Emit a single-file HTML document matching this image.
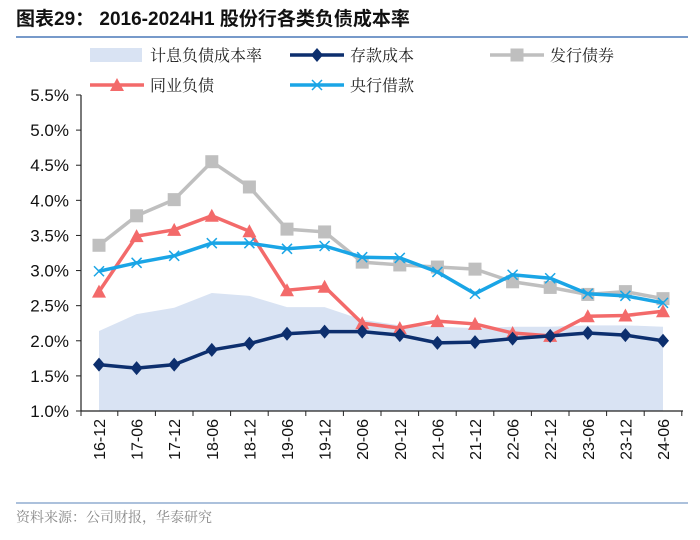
<!DOCTYPE html>
<html><head><meta charset="utf-8"><style>
body{margin:0;background:#fff;}
svg text{font-family:"Liberation Sans","Noto Sans CJK SC",sans-serif;}
svg text.serif{font-family:"Liberation Serif","Noto Serif CJK SC",serif;}
</style></head><body>
<svg width="700" height="535" viewBox="0 0 700 535">
<text x="16" y="25" font-size="19" font-weight="bold" fill="#111">图表29： 2016-2024H1 股份行各类负债成本率</text>
<line x1="16" y1="37" x2="688" y2="37" stroke="#4a78b8" stroke-width="1.5"/>
<g id="legend" font-size="16" fill="#222"></g>
<g id="plot"></g>
<line x1="16" y1="503" x2="688" y2="503" stroke="#7a9cc8" stroke-width="1.2"/>
<text class="serif" x="16" y="522" font-size="14" fill="#888">资料来源：公司财报，华泰研究</text>
</svg>
<script>
const cats=["16-12","17-06","17-12","18-06","18-12","19-06","19-12","20-06","20-12","21-06","21-12","22-06","22-12","23-06","23-12","24-06"];
const interestCost=[2.14,2.38,2.47,2.68,2.64,2.48,2.48,2.30,2.22,2.20,2.18,2.20,2.20,2.22,2.22,2.20];
const depositCost=[1.66,1.61,1.66,1.87,1.96,2.10,2.13,2.13,2.08,1.97,1.98,2.03,2.07,2.11,2.08,2.00];
const bondCost=[3.36,3.78,4.01,4.55,4.19,3.59,3.55,3.12,3.08,3.05,3.02,2.84,2.76,2.66,2.70,2.60];
const interbankCost=[2.70,3.49,3.58,3.78,3.56,2.72,2.77,2.25,2.18,2.28,2.24,2.11,2.07,2.35,2.36,2.42];
const centralCost=[2.99,3.11,3.21,3.39,3.39,3.31,3.35,3.19,3.18,2.98,2.67,2.94,2.89,2.67,2.64,2.54];
const yTicks=[1.0,1.5,2.0,2.5,3.0,3.5,4.0,4.5,5.0,5.5];
</script>
<script>
const NS="http://www.w3.org/2000/svg";
const plot=document.getElementById('plot'), legend=document.getElementById('legend');
const X0=81,X1=683,Y0=411,Y1=95;
const slots=cats.length;
function ys(v){return Y0-(v-1.0)/(5.5-1.0)*(Y0-Y1);}
function el(tag,attrs,parent){const e=document.createElementNS(NS,tag);for(const k in attrs)e.setAttribute(k,attrs[k]);parent.appendChild(e);return e;}
const step=(663-99)/(slots-1);
function xc(i){return 99+step*i;}
let d="M"+xc(0)+","+Y0;
interestCost.forEach((v,i)=>{d+=" L"+xc(i)+","+ys(v);});
d+=" L"+xc(slots-1)+","+Y0+" Z";
const area=el('path',{d:d,fill:"#d9e3f3"},plot);


const ya=el('line',{x1:X0,y1:Y1,x2:X0,y2:Y0,stroke:"#222","stroke-width":1.2},plot);


yTicks.forEach(t=>{
 const y=ys(t);
 el('line',{x1:X0-5,y1:y,x2:X0,y2:y,stroke:"#222"},plot);
 const tx=el('text',{x:X0-12,y:y+6,"text-anchor":"end","font-size":17,fill:"#111"},plot);
 tx.textContent=t.toFixed(1)+"%";
 
 
});
const xa=el('line',{x1:X0,y1:Y0,x2:X1,y2:Y0,stroke:"#222","stroke-width":1.2},plot);


for(let i=0;i<=slots;i++){const x=Math.max(X0,xc(i)-step/2);el('line',{x1:x,y1:Y0,x2:x,y2:Y0+5,stroke:"#222"},plot);}
cats.forEach((c,i)=>{
 const tx=el('text',{transform:`translate(${xc(i)+6},${Y0+8}) rotate(-90)`,"text-anchor":"end","font-size":16,fill:"#111"},plot);
 tx.textContent=c;
 
 
});
function marker(type,x,y,color,g){
 if(type==='diamond')el('path',{d:`M${x},${y-7} L${x+6},${y} L${x},${y+7} L${x-6},${y} Z`,fill:color},g);
 else if(type==='square')el('rect',{x:x-6.5,y:y-6.5,width:13,height:13,fill:color},g);
 else if(type==='triangle')el('path',{d:`M${x},${y-7} L${x+7},${y+6} L${x-7},${y+6} Z`,fill:color},g);
 else if(type==='x'){el('path',{d:`M${x-5},${y-5} L${x+5},${y+5} M${x+5},${y-5} L${x-5},${y+5}`,stroke:color,"stroke-width":1.5},g);}
}
const series=[
 {vals:bondCost,color:"#bfbfbf",m:'square',name:'bond-cost-line'},
 {vals:interbankCost,color:"#f36a6a",m:'triangle',name:'interbank-cost-line'},
 {vals:centralCost,color:"#1aa5e6",m:'x',name:'central-bank-cost-line'},
 {vals:depositCost,color:"#0d2f6e",m:'diamond',name:'deposit-cost-line'}
];
series.forEach(s=>{
 const g=el('g',{},plot);
 
 
 el('polyline',{points:s.vals.map((v,i)=>xc(i)+","+ys(v)).join(" "),fill:"none",stroke:s.color,"stroke-width":3.5},g);
 s.vals.forEach((v,i)=>marker(s.m,xc(i),ys(v),s.color,g));
});
const L=[
 {x:90,y:55,t:"计息负债成本率",type:'area',c:"#d9e3f3",n:'legend-interest-cost'},
 {x:290,y:55,t:"存款成本",type:'diamond',c:"#0d2f6e",n:'legend-deposit-cost'},
 {x:490,y:55,t:"发行债券",type:'square',c:"#bfbfbf",n:'legend-bond-cost'},
 {x:90,y:85,t:"同业负债",type:'triangle',c:"#f36a6a",n:'legend-interbank-cost'},
 {x:290,y:85,t:"央行借款",type:'x',c:"#1aa5e6",n:'legend-central-bank-cost'}
];
L.forEach(l=>{
 const g=el('g',{},legend);
 
 
 if(l.type==='area')el('rect',{x:l.x,y:l.y-7,width:52,height:14,fill:l.c},g);
 else{el('line',{x1:l.x,y1:l.y,x2:l.x+54,y2:l.y,stroke:l.c,"stroke-width":3.5},g);marker(l.type,l.x+27,l.y,l.c,g);}
 const t=el('text',{x:l.x+60,y:l.y+6,"font-size":16,fill:"#222",class:"serif"},g);t.textContent=l.t;
});
</script>
</body></html>
